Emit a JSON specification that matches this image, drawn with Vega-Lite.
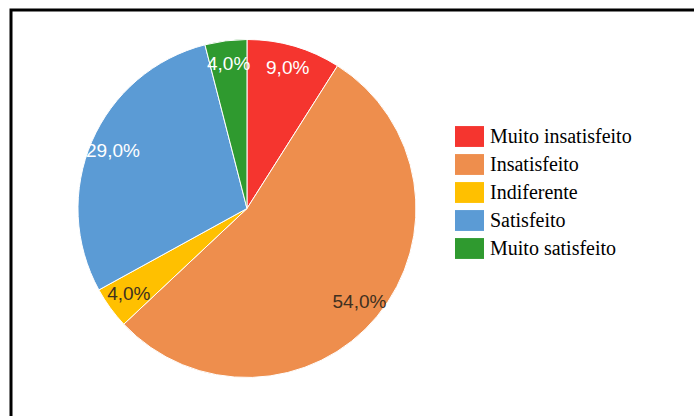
{
  "$schema": "https://vega.github.io/schema/vega-lite/v6.json",
  "width": 700,
  "height": 420,
  "autosize": "none",
  "padding": {"left": 11, "top": 10, "right": 0, "bottom": 0},
  "background": "white",
  "config": {"view": {"stroke": "#000000", "strokeWidth": 3}},
  "data": {
    "values": [
      {"Categoria": "Muito insatisfeito", "Percentual": 9, "Rotulo": "9,0%", "Ordem": 1},
      {"Categoria": "Insatisfeito", "Percentual": 54, "Rotulo": "54,0%", "Ordem": 2},
      {"Categoria": "Indiferente", "Percentual": 4, "Rotulo": "4,0%", "Ordem": 3},
      {"Categoria": "Satisfeito", "Percentual": 29, "Rotulo": "29,0%", "Ordem": 4},
      {"Categoria": "Muito satisfeito", "Percentual": 4, "Rotulo": "4,0%", "Ordem": 5}
    ]
  },
  "encoding": {
    "theta": {"field": "Percentual", "type": "quantitative", "stack": true},
    "order": {"field": "Ordem", "type": "quantitative"},
    "x": {"datum": 0.3371, "type": "quantitative", "scale": {"domain": [0, 1]}, "axis": null},
    "y": {"datum": 0.5274, "type": "quantitative", "scale": {"domain": [0, 1]}, "axis": null}
  },
  "layer": [
    {
      "mark": {"type": "arc", "outerRadius": 169, "stroke": "white", "strokeWidth": 1},
      "encoding": {
        "color": {
          "field": "Categoria",
          "type": "nominal",
          "scale": {
            "domain": ["Muito insatisfeito", "Insatisfeito", "Indiferente", "Satisfeito", "Muito satisfeito"],
            "range": ["#F5352F", "#EE8E4D", "#FFC000", "#5B9BD5", "#2F9A2F"]
          },
          "legend": {
            "title": null,
            "orient": "none",
            "legendX": 444,
            "legendY": 112,
            "padding": 0,
            "symbolType": "M-1,-0.72H1V0.72H-1Z",
            "symbolSize": 841,
            "symbolStrokeWidth": 0,
            "symbolOpacity": 1,
            "labelFont": "Liberation Serif",
            "labelFontSize": 20,
            "labelColor": "#000000",
            "labelOffset": 6,
            "rowPadding": 3,
            "labelLimit": 300
          }
        }
      }
    },
    {
      "mark": {"type": "text", "radius": 146, "font": "Liberation Sans", "fontSize": 19, "align": "center", "baseline": "middle"},
      "encoding": {
        "text": {"field": "Rotulo", "type": "nominal"},
        "color": {
          "condition": {"test": "datum.Categoria === 'Insatisfeito' || datum.Categoria === 'Indiferente'", "value": "#403020"},
          "value": "#FFFFFF"
        }
      }
    }
  ]
}
